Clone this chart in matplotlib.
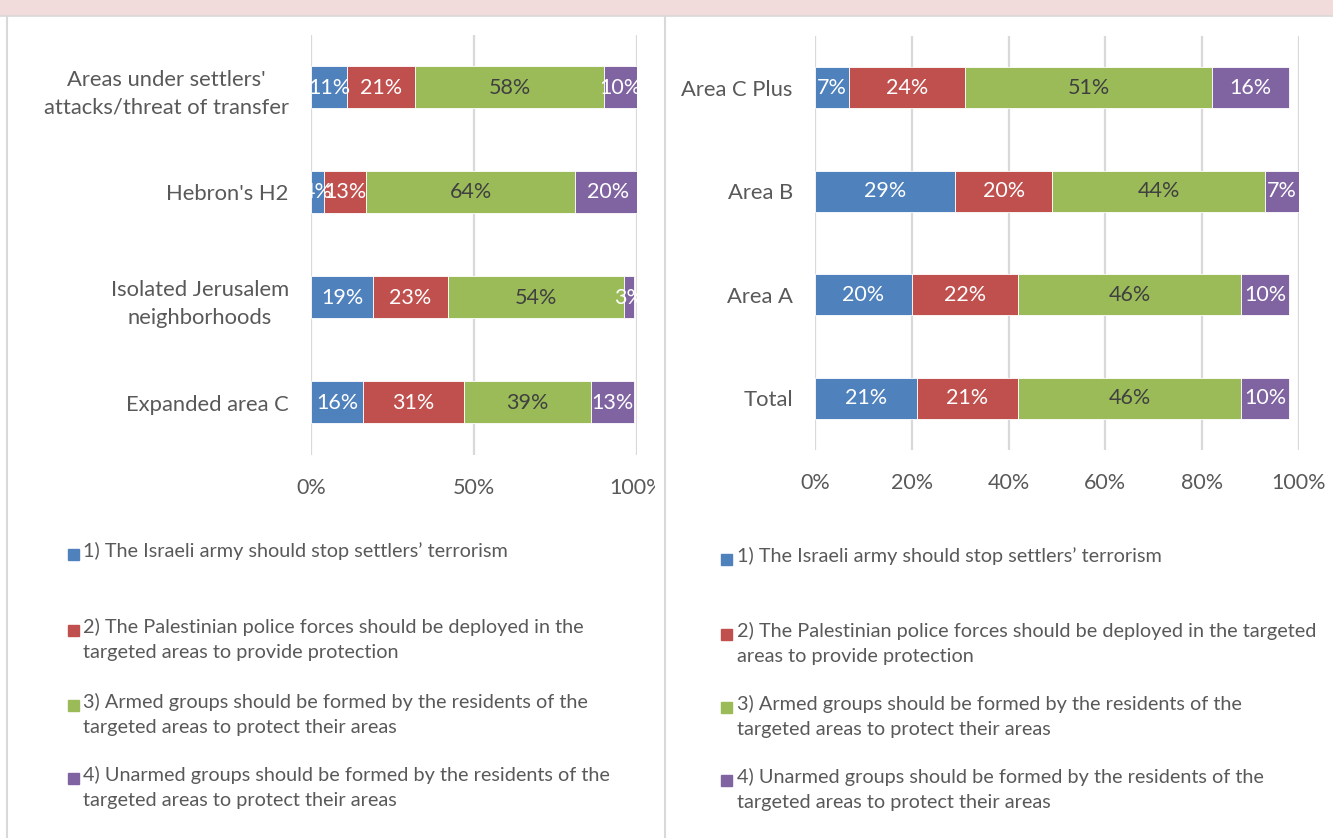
import matplotlib.pyplot as plt
from matplotlib.patches import Rectangle
from matplotlib.transforms import Bbox, TransformedBbox

plt.rcParams['font.family'] = ['Lato', 'DejaVu Sans']

W, H = 1333, 838

# legend entries (series), wrapped as in each panel
left_legend = [
    "1) The Israeli army should stop settlers’ terrorism",
    "2) The Palestinian police forces should be deployed in the\ntargeted areas to provide protection",
    "3) Armed groups should be formed by the residents of the\ntargeted areas to protect their areas",
    "4) Unarmed groups should be formed by the residents of the\ntargeted areas to protect their areas",
]
right_legend = [
    "1) The Israeli army should stop settlers’ terrorism",
    "2) The Palestinian police forces should be deployed in the targeted\nareas to provide protection",
    "3) Armed groups should be formed by the residents of the\ntargeted areas to protect their areas",
    "4) Unarmed groups should be formed by the residents of the\ntargeted areas to protect their areas",
]
colors = ['#4F81BD', '#C0504D', '#9BBB59', '#8064A2']
lbl_colors = ['white', 'white', '#404040', 'white']

# left chart
left_cats = ["Areas under settlers'\nattacks/threat of transfer", "Hebron's H2",
             "Isolated Jerusalem\nneighborhoods", "Expanded area C"]
left_stop = [11, 4, 19, 16]
left_police = [21, 13, 23, 31]
left_armed = [58, 64, 54, 39]
left_unarmed = [10, 20, 3, 13]
left_ticks = [0, 50, 100]

# right chart
right_cats = ["Area C Plus", "Area B", "Area A", "Total"]
right_stop = [7, 29, 20, 21]
right_police = [24, 20, 22, 21]
right_armed = [51, 44, 46, 46]
right_unarmed = [16, 7, 10, 10]
right_ticks = [0, 20, 40, 60, 80, 100]

TXT = '#595959'


def px_axes(fig, x0, y0, x1, y1):
    return fig.add_axes([x0 / W, 1 - y1 / H, (x1 - x0) / W, (y1 - y0) / H])


def draw_panel(ax, cats, vals, ticks):
    pos = list(range(len(cats)))
    left = [0] * len(cats)
    for i, v in enumerate(vals):
        ax.barh(pos, v, left=left, height=0.4, color=colors[i],
                edgecolor='white', linewidth=0.6, zorder=2)
        for j in pos:
            ax.text(left[j] + v[j] / 2, j, f"{v[j]}%", ha='center', va='center',
                    fontsize=15.5, color=lbl_colors[i], zorder=3)
        left = [a + b for a, b in zip(left, v)]
    ax.set_ylim(len(cats) - 0.5, -0.5)
    ax.set_xlim(0, 100)
    ax.set_yticks(pos)
    ax.set_yticklabels(cats, fontsize=15.8, color=TXT, multialignment='center',
                       linespacing=1.5)
    ax.set_xticks(ticks)
    ax.set_xticklabels([f"{t}%" for t in ticks], fontsize=15.5, color=TXT)
    ax.tick_params(length=0)
    ax.tick_params(axis='y', pad=16)
    ax.tick_params(axis='x', pad=16.5)
    ax.grid(axis='x', color='#D9D9D9', linewidth=1.6, zorder=0)
    ax.set_axisbelow(True)
    for s in ax.spines.values():
        s.set_visible(False)


def draw_legend(fig, labels, y_list, mx, tx):
    for i, lab in enumerate(labels):
        y = y_list[i]
        fig.patches.append(Rectangle((mx / W, 1 - (y + 5.5) / H), 11 / W, 11 / H,
                                     transform=fig.transFigure, color=colors[i]))
        fig.text(tx / W, 1 - (y - 12) / H, lab, ha='left', va='top',
                 fontsize=14.3, color=TXT, linespacing=1.6)


fig = plt.figure(figsize=(W / 100, H / 100), dpi=100)

# top strip and panel borders
fig.patches.append(Rectangle((0, 1 - 15 / H), 1, 15 / H, transform=fig.transFigure,
                             color='#F2DCDB', zorder=0))
fig.add_artist(plt.Line2D([0, 1], [1 - 16 / H] * 2, color='#D9D9D9', lw=1.2))
for x in (7, 665):
    fig.add_artist(plt.Line2D([x / W] * 2, [0, 1 - 16 / H], color='#D9D9D9', lw=1.5))

axL = px_axes(fig, 311, 35, 637, 455)
draw_panel(axL, left_cats, [left_stop, left_police, left_armed, left_unarmed], left_ticks)

# the left panel cuts its last tick label at its edge
clip = TransformedBbox(Bbox([[0, 0], [655 / W, 1]]), fig.transFigure)
for lab in axL.get_xticklabels():
    lab.set_clip_box(clip)
    lab.set_clip_on(True)

axR = px_axes(fig, 815, 36, 1299, 450)
draw_panel(axR, right_cats, [right_stop, right_police, right_armed, right_unarmed], right_ticks)

draw_legend(fig, left_legend, [554, 630, 705, 778], 68, 83)
draw_legend(fig, right_legend, [559, 634, 707, 780], 721, 737)

fig.savefig("out.png", dpi=100)
